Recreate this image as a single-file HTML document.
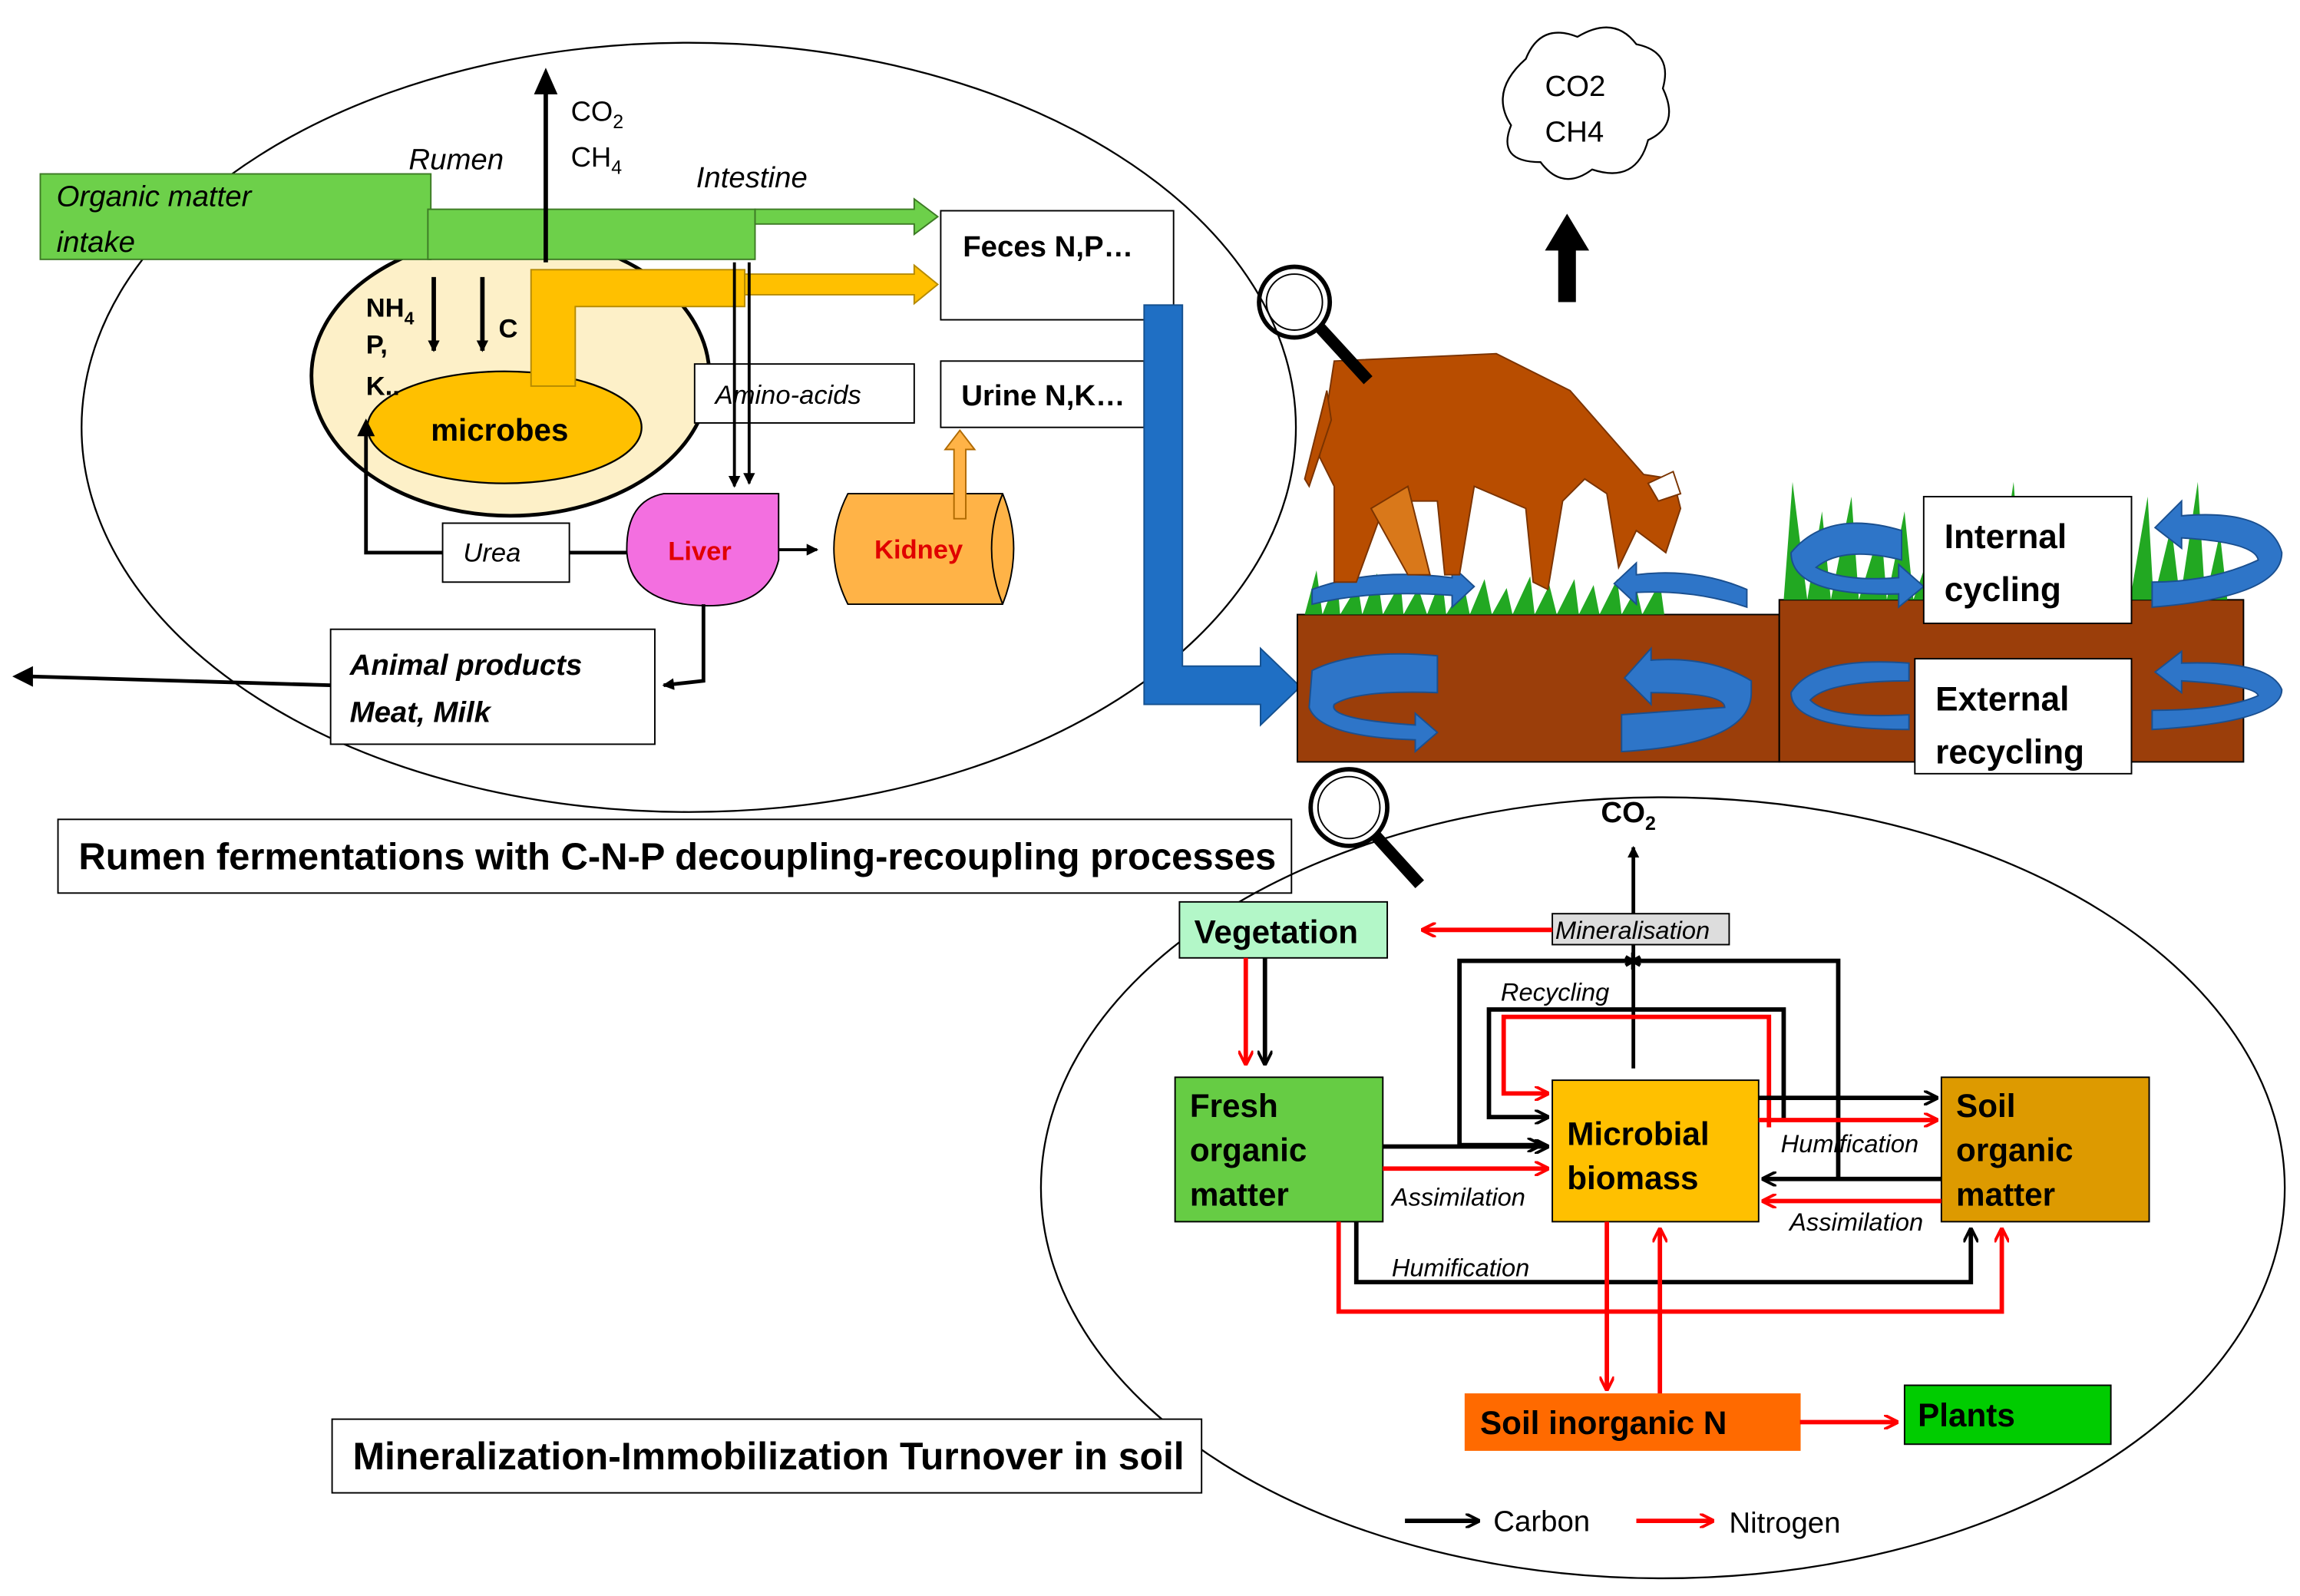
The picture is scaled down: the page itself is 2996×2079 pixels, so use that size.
<!DOCTYPE html>
<html><head><meta charset="utf-8"><style>
html,body{margin:0;padding:0;background:#fff}
svg{display:block}
text{font-family:"Liberation Sans",sans-serif}
.b{font-weight:bold}
.i{font-style:italic}
</style></head><body>
<svg width="2996" height="2079" viewBox="0 0 1560 1083" xmlns="http://www.w3.org/2000/svg">
<defs>
<marker id="ak" markerWidth="8" markerHeight="8" refX="7" refY="4" orient="auto" markerUnits="userSpaceOnUse"><path d="M0,0 L8,4 L0,8 z" fill="#000"/></marker>
<marker id="ar" markerWidth="10" markerHeight="10" refX="9" refY="5" orient="auto" markerUnits="userSpaceOnUse"><path d="M0,0 L10,5 L0,10" fill="none" stroke="#f00" stroke-width="2"/></marker>
<marker id="ab" markerWidth="10" markerHeight="10" refX="9" refY="5" orient="auto" markerUnits="userSpaceOnUse"><path d="M0,0 L10,5 L0,10" fill="none" stroke="#000" stroke-width="2"/></marker>
</defs>
<rect width="1560" height="1083" fill="#fff"/>
<ellipse cx="467" cy="290" rx="412" ry="261" fill="none" stroke="#000" stroke-width="1.2"/>
<ellipse cx="346" cy="255" rx="135" ry="95" fill="#fdf0c8" stroke="#000" stroke-width="2.5"/>
<ellipse cx="342" cy="290" rx="93" ry="38" fill="#ffc000" stroke="#000" stroke-width="1.2"/>
<text x="292" y="299" font-size="21" class="b">microbes</text>
<path d="M360,262 L360,183 L505,183 L505,208 L390,208 L390,262 Z" fill="#ffc000" stroke="#b58a00" stroke-width="1"/>
<path d="M505,186 L620,186 L620,180 L636,193 L620,206 L620,200 L505,200 Z" fill="#ffc000" stroke="#b58a00" stroke-width="1"/>
<rect x="27" y="118" width="265" height="58" fill="#6dd04a" stroke="#3d7a25" stroke-width="1"/>
<rect x="290" y="142" width="222" height="34" fill="#6dd04a" stroke="#3d7a25" stroke-width="1"/>
<path d="M512,142 L620,142 L620,135 L636,147 L620,159 L620,152 L512,152 Z" fill="#6dd04a" stroke="#3d7a25" stroke-width="1"/>
<text x="38" y="140" font-size="20" class="i">Organic matter</text>
<text x="38" y="171" font-size="20" class="i">intake</text>
<text x="277" y="115" font-size="20" class="i">Rumen</text>
<text x="472" y="127" font-size="20" class="i">Intestine</text>
<line x1="370" y1="178" x2="370" y2="62" stroke="#000" stroke-width="3"/>
<path d="M362,64 L370,46 L378,64 Z" fill="#000"/>
<text x="387" y="82" font-size="19">CO<tspan font-size="13" dy="5">2</tspan></text>
<text x="387" y="113" font-size="19">CH<tspan font-size="13" dy="5">4</tspan></text>
<text x="248" y="215" font-size="18" class="b">NH<tspan font-size="12" dy="5">4</tspan></text>
<text x="248" y="240" font-size="18" class="b">P,</text>
<text x="248" y="268" font-size="18" class="b">K..</text>
<text x="338" y="229" font-size="18" class="b">C</text>
<line x1="294" y1="188" x2="294" y2="238" stroke="#000" stroke-width="3" marker-end="url(#ak)"/>
<line x1="327" y1="188" x2="327" y2="238" stroke="#000" stroke-width="3" marker-end="url(#ak)"/>
<rect x="638" y="143" width="158" height="74" fill="#fff" stroke="#000"/>
<text x="653" y="174" font-size="20" class="b">Feces N,P…</text>
<rect x="638" y="245" width="138" height="45" fill="#fff" stroke="#000"/>
<text x="652" y="275" font-size="20" class="b">Urine N,K…</text>
<rect x="471" y="247" width="149" height="40" fill="#fff" stroke="#000"/>
<text x="485" y="274" font-size="18" class="i">Amino-acids</text>
<line x1="498" y1="178" x2="498" y2="330" stroke="#000" stroke-width="2" marker-end="url(#ak)"/>
<line x1="508" y1="178" x2="508" y2="328" stroke="#000" stroke-width="2" marker-end="url(#ak)"/>
<path d="M450,335 L528,335 L528,380 Q520,412 478,411 Q428,410 425,375 Q424,340 450,335 Z" fill="#f36fe0" stroke="#000"/>
<text x="453" y="380" font-size="18" class="b" fill="#e00000">Liver</text>
<line x1="528" y1="373" x2="554" y2="373" stroke="#000" stroke-width="2" marker-end="url(#ak)"/>
<path d="M575,335 L680,335 Q695,372 680,410 L575,410 Q556,372 575,335 Z" fill="#ffb347" stroke="#000"/>
<path d="M680,335 Q665,372 680,410" fill="none" stroke="#000"/>
<text x="593" y="379" font-size="18" class="b" fill="#e00000">Kidney</text>
<path d="M647,352 L647,305 L641,305 L651,292 L661,305 L655,305 L655,352 Z" fill="#ffb347" stroke="#b06a00"/>
<path d="M425,375 L248,375 L248,292" fill="none" stroke="#000" stroke-width="2.5"/>
<path d="M242,296 L248,284 L254,296 Z" fill="#000"/>
<rect x="300" y="355" width="86" height="40" fill="#fff" stroke="#000"/>
<text x="314" y="381" font-size="18" class="i">Urea</text>
<path d="M477,410 L477,462 L450,465" fill="none" stroke="#000" stroke-width="2.5" marker-end="url(#ak)"/>
<rect x="224" y="427" width="220" height="78" fill="#fff" stroke="#000"/>
<text x="237" y="458" font-size="20" class="b i">Animal products</text>
<text x="237" y="490" font-size="20" class="b i">Meat, Milk</text>
<line x1="224" y1="465" x2="20" y2="459" stroke="#000" stroke-width="2.5"/>
<path d="M22,452 L8,459 L22,466 Z" fill="#000"/>
<rect x="39" y="556" width="837" height="50" fill="#fff" stroke="#000"/>
<text x="53" y="590" font-size="25.5" class="b">Rumen fermentations with C-N-P decoupling-recoupling processes</text>
<path d="M776,207 L802,207 L802,452 L855,452 L855,440 L882,466 L855,492 L855,478 L776,478 Z" fill="#1f6fc4" stroke="#14508f"/>
<rect x="880" y="417" width="327" height="100" fill="#9b3e0a" stroke="#000"/>
<rect x="1207" y="407" width="315" height="110" fill="#9b3e0a" stroke="#000"/>
<g fill="#22a822">
<path d="M885,417 l8,-30 l4,30 l10,-25 l2,25 l12,-20 l3,20 l10,-28 l4,28 l12,-22 l2,22 l10,-18 l6,18 l10,-26 l3,26 l12,-20 l4,20 l10,-24 l5,24 l10,-18 l4,18 l12,-26 l3,26 l10,-20 l5,20 l12,-24 l3,24 l10,-20 l4,20 l12,-24 l3,24 l10,-18 l4,18 l12,-22 l3,22 z"/>
<path d="M1210,407 l6,-80 l10,80 l10,-60 l6,60 l14,-70 l5,70 l15,-50 l4,50 l12,-60 l6,60 l14,-40 l6,40 l12,-70 l4,70 l14,-55 l6,55 l12,-80 l6,80 l12,-50 l5,50 l14,-70 l4,70 l12,-60 l6,60 l14,-40 l6,40 l12,-70 l4,70 l12,-50 l6,50 l12,-80 l5,80 l10,-45 l5,45 z"/>
</g>
<g fill="#2e75c8" stroke="#1a4f8f" stroke-width="1">
<path d="M890,400 Q930,385 985,392 L985,384 L1000,398 L985,412 L985,404 Q930,400 890,410 Z"/>
<path d="M1185,400 Q1150,385 1110,390 L1110,382 L1095,396 L1110,410 L1110,402 Q1150,400 1185,412 Z"/>
<path d="M890,455 Q920,440 975,445 L975,470 Q920,468 905,478 Q900,488 960,492 L960,484 L975,497 L960,510 L960,502 Q895,500 888,480 Z"/>
<path d="M1188,462 Q1160,445 1120,448 L1120,440 L1102,460 L1120,478 L1120,470 Q1170,470 1170,480 L1100,485 L1100,510 Q1188,505 1188,470 Z"/>
<path d="M1215,375 Q1240,345 1290,360 L1290,380 Q1250,370 1232,385 Q1250,395 1288,392 L1288,383 L1305,398 L1288,412 L1288,403 Q1215,405 1215,375 Z"/>
<path d="M1548,375 Q1540,345 1480,350 L1480,340 L1462,358 L1480,372 L1480,365 Q1530,368 1532,380 Q1500,395 1460,395 L1460,412 Q1548,405 1548,375 Z"/>
<path d="M1215,470 Q1230,445 1295,450 L1295,462 Q1240,462 1228,475 Q1240,488 1295,485 L1295,495 Q1215,495 1215,470 Z"/>
<path d="M1548,468 Q1540,448 1480,450 L1480,442 L1462,456 L1480,470 L1480,462 Q1530,465 1532,472 Q1510,482 1460,482 L1460,495 Q1548,490 1548,468 Z"/>
</g>
<g fill="#b84d00" stroke="#7a3300" stroke-width="1">
<path d="M905,245 L1015,240 L1065,265 L1115,322 L1135,325 L1140,345 L1130,375 L1110,360 L1098,385 L1090,335 L1075,325 L1060,340 L1050,400 L1040,395 L1035,345 L1000,330 L990,390 L980,390 L975,340 L940,340 L920,395 L905,395 L905,330 L895,310 Z"/>
<path d="M900,265 L885,325 L888,330 L903,285 Z"/>
<path d="M930,345 L955,330 L970,390 L955,390 Z" fill="#d9781a"/>
</g>
<path d="M1118,328 L1135,320 L1140,335 L1125,340 Z" fill="#fff" stroke="#7a3300"/>
<g fill="none" stroke="#000">
<circle cx="878" cy="205" r="24" stroke-width="3"/><circle cx="878" cy="205" r="19" stroke-width="1"/>
<line x1="895" y1="222" x2="928" y2="258" stroke-width="8"/>
<circle cx="915" cy="548" r="26" stroke-width="3"/><circle cx="915" cy="548" r="21" stroke-width="1"/>
<line x1="933" y1="567" x2="963" y2="600" stroke-width="8"/>
</g>
<path d="M1035,40 Q1045,15 1070,25 Q1095,10 1110,30 Q1135,35 1128,60 Q1140,85 1118,95 Q1110,125 1080,115 Q1060,130 1045,110 Q1015,110 1025,85 Q1010,62 1035,40 Z" fill="#fff" stroke="#000" stroke-width="1.2"/>
<text x="1048" y="65" font-size="20">CO2</text>
<text x="1048" y="96" font-size="20">CH4</text>
<path d="M1057,205 L1057,170 L1048,170 L1063,145 L1078,170 L1069,170 L1069,205 Z" fill="#000"/>
<rect x="1305" y="337" width="141" height="86" fill="#fff" stroke="#000"/>
<text x="1319" y="372" font-size="23" class="b">Internal</text>
<text x="1319" y="408" font-size="23" class="b">cycling</text>
<rect x="1299" y="447" width="147" height="78" fill="#fff" stroke="#000"/>
<text x="1313" y="482" font-size="23" class="b">External</text>
<text x="1313" y="518" font-size="23" class="b">recycling</text>
<ellipse cx="1128" cy="806" rx="422" ry="265" fill="none" stroke="#000" stroke-width="1.2"/>
<text x="1086" y="558" font-size="20" class="b">CO<tspan font-size="13" dy="5">2</tspan></text>
<line x1="1108" y1="725" x2="1108" y2="575" stroke="#000" stroke-width="2.5" marker-end="url(#ak)"/>
<path d="M1247,800 L1247,652 L990,652 L990,777 L1045,777" fill="none" stroke="#000" stroke-width="3" marker-end="url(#ab)"/>
<path d="M1210,760 L1210,685 L1010,685 L1010,758 L1050,758" fill="none" stroke="#000" stroke-width="3" marker-end="url(#ab)"/>
<path d="M1200,765 L1200,690 L1020,690 L1020,742 L1050,742" fill="none" stroke="#f00" stroke-width="3" marker-end="url(#ar)"/>
<text x="1018" y="679" font-size="17" class="i">Recycling</text>
<text x="1101" y="658" font-size="16">✱</text>
<rect x="1053" y="620" width="120" height="21" fill="#ddd" stroke="#000"/>
<text x="1055" y="637" font-size="17" class="i">Mineralisation</text>
<line x1="1053" y1="631" x2="965" y2="631" stroke="#f00" stroke-width="3" marker-end="url(#ar)"/>
<rect x="800" y="612" width="141" height="38" fill="#b3f7c8" stroke="#000"/>
<text x="810" y="640" font-size="22" class="b">Vegetation</text>
<line x1="845" y1="650" x2="845" y2="722" stroke="#f00" stroke-width="3" marker-end="url(#ar)"/>
<line x1="858" y1="650" x2="858" y2="722" stroke="#000" stroke-width="3" marker-end="url(#ab)"/>
<rect x="797" y="731" width="141" height="98" fill="#66cc44" stroke="#000"/>
<text x="807" y="758" font-size="22" class="b">Fresh</text>
<text x="807" y="788" font-size="22" class="b">organic</text>
<text x="807" y="818" font-size="22" class="b">matter</text>
<rect x="1053" y="733" width="140" height="96" fill="#ffc000" stroke="#000"/>
<text x="1063" y="777" font-size="22" class="b">Microbial</text>
<text x="1063" y="807" font-size="22" class="b">biomass</text>
<rect x="1317" y="731" width="141" height="98" fill="#dd9a00" stroke="#000"/>
<text x="1327" y="758" font-size="22" class="b">Soil</text>
<text x="1327" y="788" font-size="22" class="b">organic</text>
<text x="1327" y="818" font-size="22" class="b">matter</text>
<line x1="938" y1="778" x2="1050" y2="778" stroke="#000" stroke-width="3" marker-end="url(#ab)"/>
<line x1="938" y1="793" x2="1050" y2="793" stroke="#f00" stroke-width="3" marker-end="url(#ar)"/>
<text x="944" y="818" font-size="17" class="i">Assimilation</text>
<line x1="1193" y1="745" x2="1314" y2="745" stroke="#000" stroke-width="3" marker-end="url(#ab)"/>
<line x1="1193" y1="760" x2="1314" y2="760" stroke="#f00" stroke-width="3" marker-end="url(#ar)"/>
<text x="1208" y="782" font-size="17" class="i">Humification</text>
<line x1="1317" y1="800" x2="1196" y2="800" stroke="#000" stroke-width="3" marker-end="url(#ab)"/>
<line x1="1317" y1="815" x2="1196" y2="815" stroke="#f00" stroke-width="3" marker-end="url(#ar)"/>
<text x="1214" y="835" font-size="17" class="i">Assimilation</text>
<path d="M920,829 L920,870 L1337,870 L1337,834" fill="none" stroke="#000" stroke-width="3" marker-end="url(#ab)"/>
<path d="M908,829 L908,890 L1358,890 L1358,834" fill="none" stroke="#f00" stroke-width="3" marker-end="url(#ar)"/>
<text x="944" y="866" font-size="17" class="i">Humification</text>
<line x1="1090" y1="829" x2="1090" y2="943" stroke="#f00" stroke-width="3" marker-end="url(#ar)"/>
<line x1="1126" y1="946" x2="1126" y2="834" stroke="#f00" stroke-width="3" marker-end="url(#ar)"/>
<rect x="994" y="946" width="227" height="38" fill="#ff6a00" stroke="#ff6a00"/>
<text x="1004" y="973" font-size="22" class="b">Soil inorganic N</text>
<line x1="1221" y1="965" x2="1287" y2="965" stroke="#f00" stroke-width="3" marker-end="url(#ar)"/>
<rect x="1292" y="940" width="140" height="40" fill="#00cc00" stroke="#000"/>
<text x="1301" y="968" font-size="22" class="b">Plants</text>
<rect x="225" y="963" width="590" height="50" fill="#fff" stroke="#000"/>
<text x="239" y="997" font-size="26" class="b">Mineralization-Immobilization Turnover in soil</text>
<line x1="953" y1="1032" x2="1003" y2="1032" stroke="#000" stroke-width="3" marker-end="url(#ab)"/>
<text x="1013" y="1039" font-size="20">Carbon</text>
<line x1="1110" y1="1032" x2="1162" y2="1032" stroke="#f00" stroke-width="3" marker-end="url(#ar)"/>
<text x="1173" y="1040" font-size="20">Nitrogen</text>
</svg>
</body></html>
